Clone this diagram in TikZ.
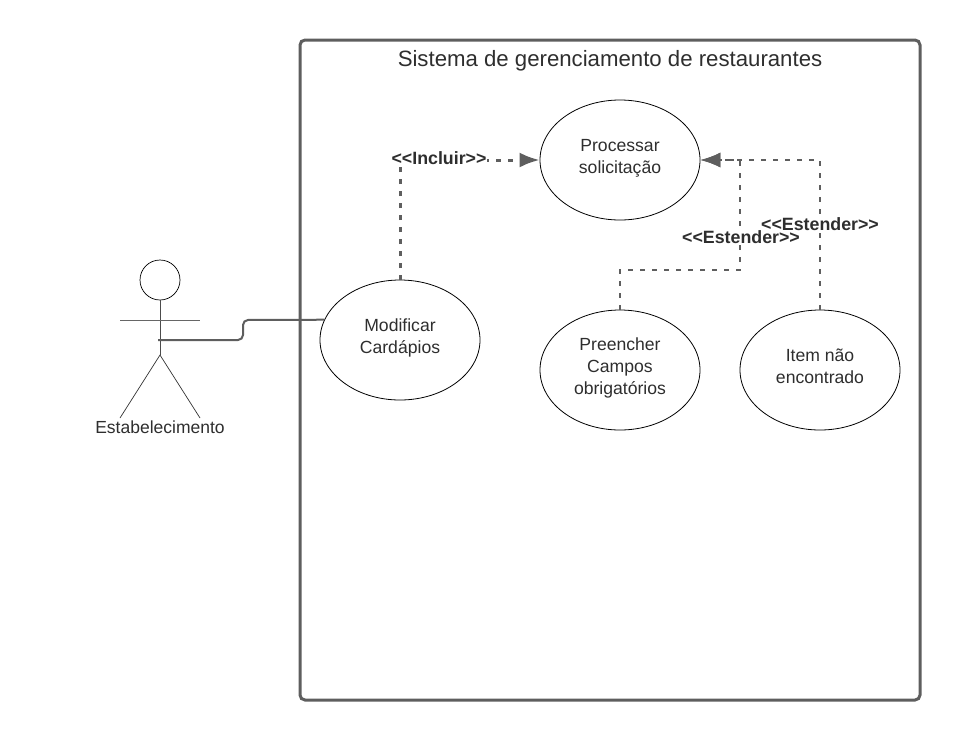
\documentclass[tikz,border=0pt]{standalone}
\usepackage{fontspec}
\setmainfont{Liberation Sans}
\usetikzlibrary{shapes.geometric,arrows.meta}
\definecolor{linegray}{HTML}{5E5E5E}
\definecolor{textgray}{HTML}{2E2E2E}
\tikzset{
  usecase/.style={draw=black,line width=0.8pt,ellipse,minimum width=160pt,minimum height=120pt,inner sep=0pt,
    align=center,text=textgray,font=\fontsize{17.6}{22}\selectfont},
  stereotype/.style={fill=white,inner sep=0.5pt,text=textgray,font=\fontsize{17.8}{20}\selectfont\bfseries},
  dep/.style={draw=linegray,line width=2pt,dash pattern=on 5pt off 7pt},
  deptip/.style={-{Latex[length=20pt,width=15pt]}}
}
\begin{document}
\begin{tikzpicture}[x=1pt,y=-1pt]
  \useasboundingbox (0,0) rectangle (960,740);
  \draw[linegray,line width=3pt,rounded corners=5pt] (300,40) rectangle (920,700);
  \node[text=textgray,font=\fontsize{22.2}{26}\selectfont] (title) at (610,61) {Sistema de gerenciamento de restaurantes};
  \node[usecase] (processar) at (620,160) {Processar\\solicitação\\[-15pt]};
  \node[usecase] (modificar) at (400,340) {Modificar\\Cardápios\\[-15pt]};
  \node[usecase] (preencher) at (620,370) {Preencher\\Campos\\obrigatórios\\[-15pt]};
  \node[usecase] (item) at (820,370) {Item não\\encontrado\\[-15pt]};
  % ator
  \node[draw=black,line width=0.7pt,circle,minimum size=40pt,inner sep=0pt] (head) at (160,280) {};
  \coordinate (hip) at (160,355);
  \coordinate (armL) at (120,320);
  \coordinate (armR) at (200,320);
  \coordinate (footL) at (120,418);
  \coordinate (footR) at (200,418);
  \coordinate (hand) at (158,340);
  \coordinate (bendA) at (243,340);
  \coordinate (bendB) at (243,320);
  \draw[black!70,line width=0.7pt] (head) -- (hip);
  \draw[black!60,line width=0.7pt] (armL) -- (armR);
  \draw[black!80,line width=0.7pt] (footL) -- (hip) -- (footR);
  \node[text=textgray,font=\fontsize{17.5}{20}\selectfont] (actor) at (160,427) {Estabelecimento};
  \draw[linegray,line width=2pt,rounded corners=5pt] (hand) -- (bendA) -- (bendB) -- (modificar.165);
  % dependencias
  \coordinate (inclBend) at (400,160);
  \coordinate (extA) at (620,270);
  \coordinate (extB) at (740,270);
  \coordinate (extC) at (740,160);
  \coordinate (extD) at (820,160);
  \draw[dep,line width=3pt,deptip] (modificar) ++(0,-60) -- (inclBend) -- (processar.west);
  \draw[dep,deptip] (preencher.north) -- (extA) -- (extB) -- (extC) -- (processar.east);
  \draw[dep,deptip] (item.north) -- (extD) -- (processar.east);
  \node[stereotype] (incluir) at (439,158) {<{}<Incluir>{}>};
  \node[stereotype] (estenderA) at (741,237) {<{}<Estender>{}>};
  \node[stereotype] (estenderB) at (820,224) {<{}<Estender>{}>};
\end{tikzpicture}
\end{document}
